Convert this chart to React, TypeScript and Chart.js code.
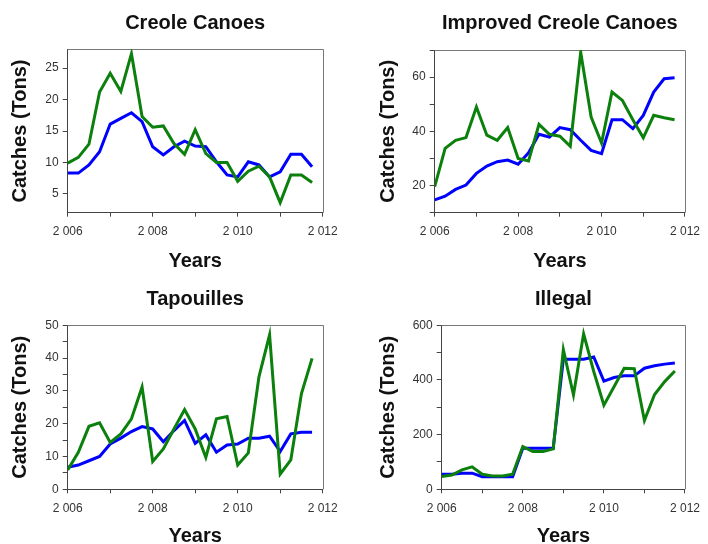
import React, { useEffect, useRef } from 'react';
import { Chart, registerables } from 'chart.js';

Chart.register(...registerables);

// ---- data ----
const quarters = [
  2006, 2006.25, 2006.5, 2006.75, 2007, 2007.25, 2007.5, 2007.75,
  2008, 2008.25, 2008.5, 2008.75, 2009, 2009.25, 2009.5, 2009.75,
  2010, 2010.25, 2010.5, 2010.75, 2011, 2011.25, 2011.5, 2011.75,
];

const creoleBlue = [8.3, 8.3, 9.6, 11.7, 16.1, 17.0, 17.9, 16.5, 12.5, 11.2, 12.5, 13.4, 12.6, 12.5, 10.1, 8.0, 7.7, 10.1, 9.6, 7.7, 8.5, 11.3, 11.3, 9.3];
const creoleGreen = [9.9, 10.8, 12.9, 21.2, 24.2, 21.3, 27.3, 17.3, 15.6, 15.8, 13.0, 11.3, 15.2, 11.4, 10.0, 10.0, 7.0, 8.6, 9.4, 7.7, 3.6, 8.0, 8.0, 6.8];

const improvedBlue = [14.7, 16.1, 18.6, 20.2, 24.5, 27.2, 28.8, 29.4, 27.9, 32.1, 38.9, 37.9, 41.4, 40.6, 36.7, 33.0, 31.8, 44.3, 44.3, 41.0, 45.9, 54.5, 59.4, 59.8];
const improvedGreen = [19.6, 33.7, 36.7, 37.7, 49.0, 38.6, 36.7, 41.4, 30.0, 29.1, 42.6, 38.9, 38.2, 34.5, 69.2, 45.3, 35.7, 54.5, 51.4, 44.3, 37.6, 45.9, 45.0, 44.3];

const tapBlue = [6.7, 7.4, 8.7, 10.0, 13.8, 15.6, 17.6, 19.1, 18.4, 14.5, 17.9, 21.0, 14.0, 16.6, 11.3, 13.5, 13.8, 15.6, 15.6, 16.2, 11.5, 16.9, 17.4, 17.4];
const tapGreen = [5.9, 11.3, 19.2, 20.3, 14.3, 16.9, 21.5, 31.2, 8.5, 12.3, 18.4, 24.3, 18.4, 9.7, 21.5, 22.2, 7.4, 11.1, 34.3, 47.1, 4.6, 9.0, 29.2, 39.9];

const illegalBlue = [55, 55, 59, 59, 46, 46, 46, 46, 150, 150, 150, 150, 476, 476, 476, 484, 396, 409, 415, 415, 443, 452, 458, 462];
const illegalGreen = [47, 52, 71, 82, 55, 49, 49, 55, 156, 138, 138, 148, 511, 345, 569, 431, 308, 375, 443, 441, 252, 347, 394, 433];

// ---- ticks ----
const xTicks = [2006, 2007, 2008, 2009, 2010, 2011, 2012];
const xLabelled = [2006, 2008, 2010, 2012];

const creoleYTicks = [5, 10, 15, 20, 25];
const creoleYLabelled = [5, 10, 15, 20, 25];
const improvedYTicks = [10, 20, 30, 40, 50, 60, 70];
const improvedYLabelled = [20, 40, 60];
const tapYTicks = [0, 5, 10, 15, 20, 25, 30, 35, 40, 45, 50];
const tapYLabelled = [0, 10, 20, 30, 40, 50];
const illegalYTicks = [0, 100, 200, 300, 400, 500, 600];
const illegalYLabelled = [0, 200, 400, 600];

const titles = ['Creole Canoes', 'Improved Creole Canoes', 'Tapouilles', 'Illegal'];
const xTitle = 'Years';
const yTitle = 'Catches (Tons)';

// ---- styles / layout ----
const FONT = "'Liberation Sans', Arial, sans-serif";
const BLUE = '#0000ff';
const GREEN = '#0c800c';
const CELL_W = 354;
const CELL_H = 272;

type PanelCfg = {
  title: string;
  blue: number[];
  green: number[];
  yMin: number;
  yMax: number;
  yTicks: number[];
  yLabelled: number[];
  cellX: number;
  cellY: number;
  area: { left: number; right: number; top: number; bottom: number };
  titleY: number;
  yTitleX: number;
  xTitleY: number;
};

const panels: PanelCfg[] = [
  {
    title: titles[0], blue: creoleBlue, green: creoleGreen, yMin: 2, yMax: 28,
    yTicks: creoleYTicks, yLabelled: creoleYLabelled, cellX: 0, cellY: 0,
    area: { left: 67.7, right: 322.7, top: 49.3, bottom: 212.7 },
    titleY: 23, yTitleX: 20.8, xTitleY: 261,
  },
  {
    title: titles[1], blue: improvedBlue, green: improvedGreen, yMin: 10, yMax: 70,
    yTicks: improvedYTicks, yLabelled: improvedYLabelled, cellX: 354, cellY: 0,
    area: { left: 80.7, right: 334.3, top: 50, bottom: 212.7 },
    titleY: 23, yTitleX: 34.7, xTitleY: 261,
  },
  {
    title: titles[2], blue: tapBlue, green: tapGreen, yMin: 0, yMax: 50,
    yTicks: tapYTicks, yLabelled: tapYLabelled, cellX: 0, cellY: 272,
    area: { left: 67.7, right: 322.7, top: 53.3, bottom: 217.3 },
    titleY: 27, yTitleX: 20.8, xTitleY: 264,
  },
  {
    title: titles[3], blue: illegalBlue, green: illegalGreen, yMin: 0, yMax: 600,
    yTicks: illegalYTicks, yLabelled: illegalYLabelled, cellX: 354, cellY: 272,
    area: { left: 87.7, right: 335, top: 53.3, bottom: 217.3 },
    titleY: 27, yTitleX: 34.2, xTitleY: 264,
  },
];

const fmtYear = (v: number) => `${Math.floor(v / 1000)} ${String(v % 1000).padStart(3, '0')}`;

const framePlugin = {
  id: 'frame',
  beforeDatasetsDraw(chart: any) {
    const { ctx, chartArea: a } = chart;
    ctx.save();
    ctx.strokeStyle = '#777';
    ctx.lineWidth = 1;
    ctx.beginPath();
    ctx.moveTo(a.left, Math.round(a.top) + 0.5);
    ctx.lineTo(Math.round(a.right) + 0.5, Math.round(a.top) + 0.5);
    ctx.lineTo(Math.round(a.right) + 0.5, a.bottom);
    ctx.stroke();
    ctx.restore();
  },
};

function Panel({ cfg }: { cfg: PanelCfg }) {
  const ref = useRef<HTMLCanvasElement>(null);
  useEffect(() => {
    if (!ref.current) return;
    const TITLE_SIZE = 20;
    const TITLE_LH = TITLE_SIZE * 1.2;
    const titlePadTop = cfg.titleY - TITLE_LH / 2;
    const titlePadBottom = cfg.area.top - titlePadTop - TITLE_LH;
    const Y_TITLE_SIZE = 20;
    const X_TITLE_SIZE = 20;
    const tickFont = { family: FONT, size: 12 };
    const chart = new Chart(ref.current, {
      type: 'line',
      data: {
        datasets: [
          {
            data: quarters.map((q, i) => ({ x: q, y: cfg.green[i] })),
            borderColor: GREEN,
            borderWidth: 3,
            pointRadius: 0,
            tension: 0,
            fill: false,
          },
          {
            data: quarters.map((q, i) => ({ x: q, y: cfg.blue[i] })),
            borderColor: BLUE,
            borderWidth: 3,
            pointRadius: 0,
            tension: 0,
            fill: false,
          },
        ],
      },
      options: {
        responsive: false,
        animation: false,
        events: [],
        layout: { padding: { left: 0, right: CELL_W - cfg.area.right, top: 0, bottom: 0 } },
        plugins: {
          legend: { display: false },
          tooltip: { enabled: false },
          title: {
            display: true,
            text: cfg.title,
            fullSize: false,
            color: '#111',
            font: { family: FONT, size: TITLE_SIZE, weight: 'bold', lineHeight: 1.2 },
            padding: { top: titlePadTop, bottom: titlePadBottom },
          },
        },
        scales: {
          x: {
            type: 'linear',
            min: 2006,
            max: 2012,
            afterBuildTicks: (ax: any) => {
              ax.ticks = xTicks.map((v) => ({ value: v }));
            },
            afterFit: (ax: any) => {
              ax.height = CELL_H - cfg.area.bottom;
            },
            ticks: {
              autoSkip: false,
              maxRotation: 0,
              minRotation: 0,
              padding: 8,
              color: '#333',
              font: tickFont,
              callback: (v: any) => (xLabelled.includes(Number(v)) ? fmtYear(Number(v)) : ''),
            },
            grid: { drawOnChartArea: false, drawTicks: true, tickLength: 4, color: '#444', lineWidth: 1 },
            border: { display: true, color: '#444', width: 1 },
            title: {
              display: true,
              text: xTitle,
              color: '#111',
              font: { family: FONT, size: X_TITLE_SIZE, weight: 'bold', lineHeight: 1 },
              padding: { top: 0, bottom: CELL_H - cfg.xTitleY - X_TITLE_SIZE / 2 },
            },
          },
          y: {
            type: 'linear',
            min: cfg.yMin,
            max: cfg.yMax,
            afterBuildTicks: (ax: any) => {
              ax.ticks = cfg.yTicks.map((v) => ({ value: v }));
            },
            afterFit: (ax: any) => {
              ax.width = cfg.area.left;
            },
            ticks: {
              autoSkip: false,
              padding: 4,
              color: '#333',
              font: tickFont,
              callback: (v: any) => (cfg.yLabelled.includes(Number(v)) ? String(v) : ''),
            },
            grid: { drawOnChartArea: false, drawTicks: true, tickLength: 5, color: '#444', lineWidth: 1 },
            border: { display: true, color: '#444', width: 1 },
            title: {
              display: true,
              text: yTitle,
              color: '#111',
              font: { family: FONT, size: Y_TITLE_SIZE, weight: 'bold', lineHeight: 1.2 },
              padding: { top: cfg.yTitleX - (Y_TITLE_SIZE * 1.2) / 2, bottom: 0 },
            },
          },
        },
      } as any,
      plugins: [framePlugin],
    });
    return () => chart.destroy();
  }, [cfg]);
  return (
    <div style={{ position: 'absolute', left: cfg.cellX, top: cfg.cellY, width: CELL_W, height: CELL_H }}>
      <canvas ref={ref} width={CELL_W} height={CELL_H} style={{ width: CELL_W, height: CELL_H, display: 'block' }} />
    </div>
  );
}

export default function App() {
  return (
    <div
      style={{
        position: 'absolute',
        left: 0,
        top: 0,
        width: 708,
        height: 544,
        overflow: 'hidden',
        background: '#fff',
      }}
    >
      {panels.map((p) => (
        <Panel key={p.title} cfg={p} />
      ))}
    </div>
  );
}
